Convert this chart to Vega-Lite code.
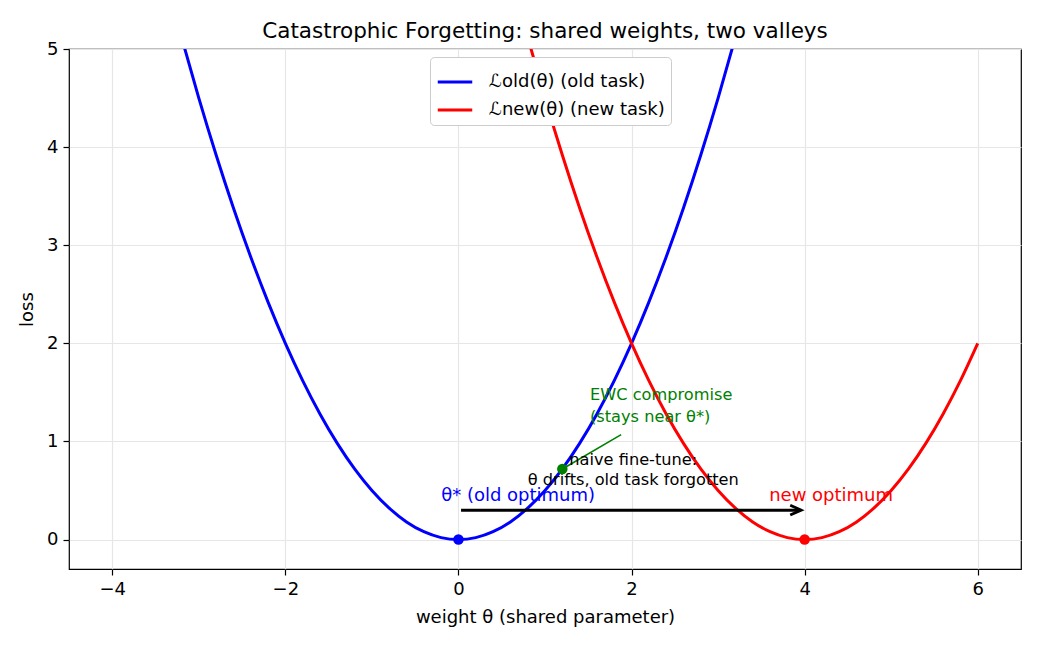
{
  "$schema": "https://vega.github.io/schema/vega-lite/v6.json",
  "width": 952,
  "height": 520,
  "autosize": {"type": "none"},
  "padding": {"left": 69, "top": 49, "right": 19, "bottom": 81},
  "background": "white",
  "config": {
    "font": "DejaVu Sans",
    "view": {"stroke": "black", "strokeWidth": 1.2},
    "axis": {
      "domain": false,
      "grid": true,
      "gridColor": "#e6e6e6",
      "gridWidth": 1.2,
      "tickColor": "black",
      "tickSize": 6,
      "tickWidth": 1.2,
      "labelFont": "DejaVu Sans",
      "labelFontSize": 18,
      "labelColor": "black",
      "labelPadding": 5,
      "titleFont": "DejaVu Sans",
      "titleFontSize": 18,
      "titleFontWeight": "normal",
      "titleColor": "black",
      "format": "d"
    },
    "title": {"font": "DejaVu Sans", "fontSize": 21.5, "fontWeight": "normal", "color": "black", "offset": -2}
  },
  "title": "Catastrophic Forgetting: shared weights, two valleys",
  "layer": [
    {
      "data": {"values": [
        {"theta": -3.4, "loss": 5.78, "series": "ℒold(θ) (old task)"},
        {"theta": -3.2, "loss": 5.12, "series": "ℒold(θ) (old task)"},
        {"theta": -3.0, "loss": 4.5, "series": "ℒold(θ) (old task)"},
        {"theta": -2.8, "loss": 3.92, "series": "ℒold(θ) (old task)"},
        {"theta": -2.6, "loss": 3.38, "series": "ℒold(θ) (old task)"},
        {"theta": -2.4, "loss": 2.88, "series": "ℒold(θ) (old task)"},
        {"theta": -2.2, "loss": 2.42, "series": "ℒold(θ) (old task)"},
        {"theta": -2.0, "loss": 2.0, "series": "ℒold(θ) (old task)"},
        {"theta": -1.8, "loss": 1.62, "series": "ℒold(θ) (old task)"},
        {"theta": -1.6, "loss": 1.28, "series": "ℒold(θ) (old task)"},
        {"theta": -1.4, "loss": 0.98, "series": "ℒold(θ) (old task)"},
        {"theta": -1.2, "loss": 0.72, "series": "ℒold(θ) (old task)"},
        {"theta": -1.0, "loss": 0.5, "series": "ℒold(θ) (old task)"},
        {"theta": -0.8, "loss": 0.32, "series": "ℒold(θ) (old task)"},
        {"theta": -0.6, "loss": 0.18, "series": "ℒold(θ) (old task)"},
        {"theta": -0.4, "loss": 0.08, "series": "ℒold(θ) (old task)"},
        {"theta": -0.2, "loss": 0.02, "series": "ℒold(θ) (old task)"},
        {"theta": 0.0, "loss": 0.0, "series": "ℒold(θ) (old task)"},
        {"theta": 0.2, "loss": 0.02, "series": "ℒold(θ) (old task)"},
        {"theta": 0.4, "loss": 0.08, "series": "ℒold(θ) (old task)"},
        {"theta": 0.6, "loss": 0.18, "series": "ℒold(θ) (old task)"},
        {"theta": 0.8, "loss": 0.32, "series": "ℒold(θ) (old task)"},
        {"theta": 1.0, "loss": 0.5, "series": "ℒold(θ) (old task)"},
        {"theta": 1.2, "loss": 0.72, "series": "ℒold(θ) (old task)"},
        {"theta": 1.4, "loss": 0.98, "series": "ℒold(θ) (old task)"},
        {"theta": 1.6, "loss": 1.28, "series": "ℒold(θ) (old task)"},
        {"theta": 1.8, "loss": 1.62, "series": "ℒold(θ) (old task)"},
        {"theta": 2.0, "loss": 2.0, "series": "ℒold(θ) (old task)"},
        {"theta": 2.2, "loss": 2.42, "series": "ℒold(θ) (old task)"},
        {"theta": 2.4, "loss": 2.88, "series": "ℒold(θ) (old task)"},
        {"theta": 2.6, "loss": 3.38, "series": "ℒold(θ) (old task)"},
        {"theta": 2.8, "loss": 3.92, "series": "ℒold(θ) (old task)"},
        {"theta": 3.0, "loss": 4.5, "series": "ℒold(θ) (old task)"},
        {"theta": 3.2, "loss": 5.12, "series": "ℒold(θ) (old task)"},
        {"theta": 3.4, "loss": 5.78, "series": "ℒold(θ) (old task)"},
        {"theta": 0.6, "loss": 5.78, "series": "ℒnew(θ) (new task)"},
        {"theta": 0.8, "loss": 5.12, "series": "ℒnew(θ) (new task)"},
        {"theta": 1.0, "loss": 4.5, "series": "ℒnew(θ) (new task)"},
        {"theta": 1.2, "loss": 3.92, "series": "ℒnew(θ) (new task)"},
        {"theta": 1.4, "loss": 3.38, "series": "ℒnew(θ) (new task)"},
        {"theta": 1.6, "loss": 2.88, "series": "ℒnew(θ) (new task)"},
        {"theta": 1.8, "loss": 2.42, "series": "ℒnew(θ) (new task)"},
        {"theta": 2.0, "loss": 2.0, "series": "ℒnew(θ) (new task)"},
        {"theta": 2.2, "loss": 1.62, "series": "ℒnew(θ) (new task)"},
        {"theta": 2.4, "loss": 1.28, "series": "ℒnew(θ) (new task)"},
        {"theta": 2.6, "loss": 0.98, "series": "ℒnew(θ) (new task)"},
        {"theta": 2.8, "loss": 0.72, "series": "ℒnew(θ) (new task)"},
        {"theta": 3.0, "loss": 0.5, "series": "ℒnew(θ) (new task)"},
        {"theta": 3.2, "loss": 0.32, "series": "ℒnew(θ) (new task)"},
        {"theta": 3.4, "loss": 0.18, "series": "ℒnew(θ) (new task)"},
        {"theta": 3.6, "loss": 0.08, "series": "ℒnew(θ) (new task)"},
        {"theta": 3.8, "loss": 0.02, "series": "ℒnew(θ) (new task)"},
        {"theta": 4.0, "loss": 0.0, "series": "ℒnew(θ) (new task)"},
        {"theta": 4.2, "loss": 0.02, "series": "ℒnew(θ) (new task)"},
        {"theta": 4.4, "loss": 0.08, "series": "ℒnew(θ) (new task)"},
        {"theta": 4.6, "loss": 0.18, "series": "ℒnew(θ) (new task)"},
        {"theta": 4.8, "loss": 0.32, "series": "ℒnew(θ) (new task)"},
        {"theta": 5.0, "loss": 0.5, "series": "ℒnew(θ) (new task)"},
        {"theta": 5.2, "loss": 0.72, "series": "ℒnew(θ) (new task)"},
        {"theta": 5.4, "loss": 0.98, "series": "ℒnew(θ) (new task)"},
        {"theta": 5.6, "loss": 1.28, "series": "ℒnew(θ) (new task)"},
        {"theta": 5.8, "loss": 1.62, "series": "ℒnew(θ) (new task)"},
        {"theta": 6.0, "loss": 2.0, "series": "ℒnew(θ) (new task)"}
      ]},
      "mark": {"type": "line", "clip": true, "strokeWidth": 3, "interpolate": "monotone"},
      "encoding": {
        "x": {"field": "theta", "type": "quantitative", "scale": {"domain": [-4.5, 6.5], "nice": false, "zero": false}, "axis": {"values": [-4, -2, 0, 2, 4, 6], "title": "weight θ (shared parameter)", "titlePadding": 10}},
        "y": {"field": "loss", "type": "quantitative", "scale": {"domain": [-0.3, 5], "nice": false, "zero": false}, "axis": {"values": [0, 1, 2, 3, 4, 5], "title": "loss", "titlePadding": 10}},
        "color": {
          "field": "series", "type": "nominal",
          "scale": {"domain": ["ℒold(θ) (old task)", "ℒnew(θ) (new task)"], "range": ["#0000ff", "#ff0000"]},
          "legend": {
            "title": null, "orient": "none", "legendX": 361, "legendY": 8,
            "fillColor": "white", "strokeColor": "#cccccc", "cornerRadius": 4, "padding": 6,
            "labelFont": "DejaVu Sans", "labelFontSize": 18, "labelColor": "black", "labelLimit": 400,
            "symbolType": "stroke", "symbolSize": 1190, "symbolStrokeWidth": 3, "rowPadding": 0, "labelOffset": 15
          }
        },
        "detail": {"field": "series"}
      }
    },
    {
      "data": {"values": [{"theta": 0.03, "theta2": 3.93, "loss": 0.3}]},
      "mark": {"type": "rule", "color": "black", "strokeWidth": 3},
      "encoding": {"x": {"field": "theta", "type": "quantitative"}, "x2": {"field": "theta2"}, "y": {"field": "loss", "type": "quantitative"}}
    },
    {
      "data": {"values": [{"theta": 3.96, "loss": 0.3}]},
      "mark": {"type": "point", "shape": "M-1,-0.45L0,0L-1,0.45", "size": 480, "filled": false, "stroke": "black", "strokeWidth": 2.8, "opacity": 1},
      "encoding": {"x": {"field": "theta", "type": "quantitative"}, "y": {"field": "loss", "type": "quantitative"}}
    },
    {
      "data": {"values": [{"theta": 1.88, "loss": 1.07}, {"theta": 1.24, "loss": 0.74}]},
      "mark": {"type": "line", "color": "#008000", "strokeWidth": 1.6},
      "encoding": {"x": {"field": "theta", "type": "quantitative"}, "y": {"field": "loss", "type": "quantitative"}}
    },
    {
      "data": {"values": [{"theta": -0.2, "loss": 0.39, "label": "θ* (old optimum)"}]},
      "mark": {"type": "text", "align": "left", "baseline": "alphabetic", "fontSize": 18, "color": "#0000ff"},
      "encoding": {"x": {"field": "theta", "type": "quantitative"}, "y": {"field": "loss", "type": "quantitative"}, "text": {"field": "label"}}
    },
    {
      "data": {"values": [{"theta": 3.59, "loss": 0.39, "label": "new optimum"}]},
      "mark": {"type": "text", "align": "left", "baseline": "alphabetic", "fontSize": 18, "color": "#ff0000"},
      "encoding": {"x": {"field": "theta", "type": "quantitative"}, "y": {"field": "loss", "type": "quantitative"}, "text": {"field": "label"}}
    },
    {
      "data": {"values": [{"theta": 2.02, "loss": 0.765, "label": "naive fine-tune:\nθ drifts, old task forgotten"}]},
      "mark": {"type": "text", "align": "center", "baseline": "alphabetic", "fontSize": 16.2, "color": "black", "lineBreak": "\n", "lineHeight": 20},
      "encoding": {"x": {"field": "theta", "type": "quantitative"}, "y": {"field": "loss", "type": "quantitative"}, "text": {"field": "label"}}
    },
    {
      "data": {"values": [{"theta": 1.52, "loss": 1.42, "label": "EWC compromise\n(stays near θ*)"}]},
      "mark": {"type": "text", "align": "left", "baseline": "alphabetic", "fontSize": 16.2, "color": "#008000", "lineBreak": "\n", "lineHeight": 22},
      "encoding": {"x": {"field": "theta", "type": "quantitative"}, "y": {"field": "loss", "type": "quantitative"}, "text": {"field": "label"}}
    },
    {
      "data": {"values": [{"theta": 0, "loss": 0}]},
      "mark": {"type": "point", "filled": true, "size": 110, "color": "#0000ff", "opacity": 1},
      "encoding": {"x": {"field": "theta", "type": "quantitative"}, "y": {"field": "loss", "type": "quantitative"}}
    },
    {
      "data": {"values": [{"theta": 4, "loss": 0}]},
      "mark": {"type": "point", "filled": true, "size": 110, "color": "#ff0000", "opacity": 1},
      "encoding": {"x": {"field": "theta", "type": "quantitative"}, "y": {"field": "loss", "type": "quantitative"}}
    },
    {
      "data": {"values": [{"theta": 1.2, "loss": 0.72}]},
      "mark": {"type": "point", "filled": true, "size": 110, "color": "#008000", "opacity": 1},
      "encoding": {"x": {"field": "theta", "type": "quantitative"}, "y": {"field": "loss", "type": "quantitative"}}
    }
  ]
}
